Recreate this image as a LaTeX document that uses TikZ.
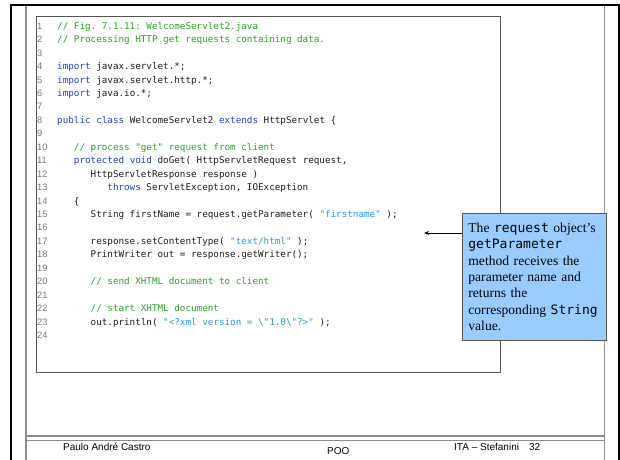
\documentclass[tikz,border=0pt]{standalone}
\usepackage{fontspec}
\setmainfont{Liberation Serif}
\newfontfamily\codefont{DejaVu Sans Mono}
\newfontfamily\footfont{Liberation Sans}
\usetikzlibrary{arrows.meta}
\frenchspacing
\definecolor{cmtgreen}{RGB}{45,160,45}
\definecolor{kwblue}{RGB}{40,60,215}
\definecolor{strblue}{RGB}{40,150,240}
\definecolor{codeblack}{RGB}{30,30,30}
\definecolor{lngray}{RGB}{120,120,120}
\definecolor{framegray}{RGB}{140,140,140}
\definecolor{boxgray}{RGB}{85,85,85}
\definecolor{calloutblue}{RGB}{153,204,255}
\newcommand{\jcm}[1]{\textcolor{cmtgreen}{#1}}
\newcommand{\jkw}[1]{\textcolor{kwblue}{#1}}
\newcommand{\jst}[1]{\textcolor{strblue}{#1}}
\newcommand{\cmono}[1]{{\codefont\fontsize{13}{16.3}\selectfont #1}}
\newcommand{\numln}[1]{\node[lnum] (n#1) at (37,{29.2+13.45*(#1-1)}) {#1};}
\newcommand{\codeln}[3]{\numln{#1}\node[ctext] (c#1) at ({57+5.58*#2},{29.2+13.45*(#1-1)}) {#3};}
\tikzset{
  lnum/.style={anchor=base west, inner sep=0, font=\footfont\fontsize{9.3}{11}\selectfont, text=lngray},
  ctext/.style={anchor=base west, inner sep=0, font=\codefont\fontsize{9.27}{11}\selectfont, text=codeblack},
  callout/.style={anchor=north west, draw=boxgray, fill=calloutblue, line width=0.8pt,
    minimum width=144pt, minimum height=127pt, inner xsep=6pt, inner ysep=0pt,
    text width=132pt, align=left, font=\fontsize{13.6}{16.3}\selectfont},
  foot/.style={anchor=base west, inner sep=0, font=\footfont\fontsize{10}{12}\selectfont, text=black},
  heavyline/.style={draw=black, line width=2pt},
  greyline/.style={draw=framegray, line width=1.2pt},
  arrowline/.style={draw=black, line width=0.8pt, -{Stealth[length=5pt,width=4pt]}}
}
\begin{document}
\begin{tikzpicture}[x=1pt,y=-1pt]
\useasboundingbox (0,0) rectangle (620,459);
\fill[white] (0,0) rectangle (620,459);
% frame
\draw[heavyline] (11,460) -- (11,5) -- (618.5,5) -- (618.5,460);
\draw[greyline] (26,6) -- (26,460);
\draw[greyline] (604.5,6) -- (604.5,460);
\draw[greyline] (26,436) -- (604.5,436);
\draw[greyline] (26,440.5) -- (604.5,440.5);
% code box
\draw[draw=boxgray, line width=0.8pt] (36,16) rectangle (500,372);
\codeln{1}{0}{\jcm{// Fig. 7.1.11: WelcomeServlet2.java}}
\codeln{2}{0}{\jcm{// Processing HTTP get requests containing data.}}
\numln{3}
\codeln{4}{0}{\jkw{import} javax.servlet.*;}
\codeln{5}{0}{\jkw{import} javax.servlet.http.*;}
\codeln{6}{0}{\jkw{import} java.io.*;}
\numln{7}
\codeln{8}{0}{\jkw{public} \jkw{class} WelcomeServlet2 \jkw{extends} HttpServlet \{}
\numln{9}
\codeln{10}{3}{\jcm{// process "get" request from client}}
\codeln{11}{3}{\jkw{protected} \jkw{void} doGet( HttpServletRequest request,}
\codeln{12}{6}{HttpServletResponse response )}
\codeln{13}{9}{\jkw{throws} ServletException, IOException}
\codeln{14}{3}{\{}
\codeln{15}{6}{String firstName = request.getParameter( \jst{"firstname"} );}
\numln{16}
\codeln{17}{6}{response.setContentType( \jst{"text/html"} );}
\codeln{18}{6}{PrintWriter out = response.getWriter();}
\numln{19}
\codeln{20}{6}{\jcm{// send XHTML document to client}}
\numln{21}
\codeln{22}{6}{\jcm{// start XHTML document}}
\codeln{23}{6}{out.println( \jst{"<?xml version = \textbackslash"1.0\textbackslash"?>"} );}
\numln{24}
% callout
\node[callout] (callout) at (462,213) {The \cmono{request} object’s\\
\cmono{getParameter}\\
method receives the\\
parameter name and\\
returns the\\
corresponding \cmono{String}\\
value.};
\coordinate (arrtip) at (424,233);
\draw[arrowline] (callout.west |- arrtip) -- (arrtip);
% footer
\node[foot] (author) at (63,450.6) {Paulo André Castro};
\node[foot] (course) at (327,454.6) {POO};
\node[foot] (inst) at (454,450.6) {ITA – Stefanini\hspace{10pt}32};
\end{tikzpicture}
\end{document}
